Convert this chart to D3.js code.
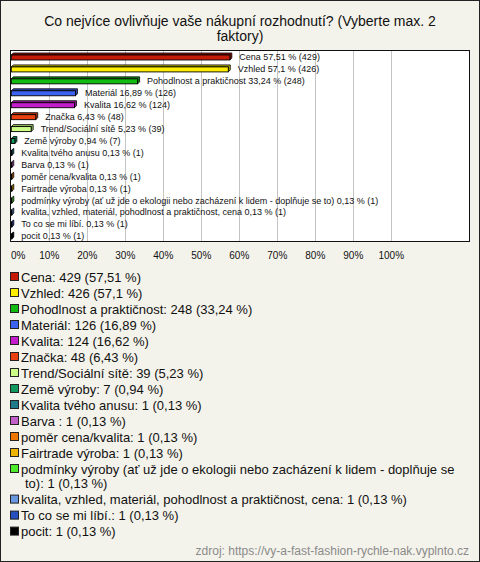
<!DOCTYPE html>
<html><head><meta charset="utf-8">
<script src="https://cdn.jsdelivr.net/npm/d3@7"></script>
<style>
html,body{margin:0;padding:0;background:#f4f3eb;}
svg{display:block;font-family:"Liberation Sans",Arial,sans-serif;}
</style></head>
<body>
<script>
const title = ["Co nejvíce ovlivňuje vaše nákupní rozhodnutí? (Vyberte max. 2", "faktory)"];
const categories = ["Cena","Vzhled","Pohodlnost a praktičnost","Materiál","Kvalita","Značka","Trend/Sociální sítě","Země výroby","Kvalita tvého anusu","Barva ","poměr cena/kvalita","Fairtrade výroba","podmínky výroby (ať už jde o ekologii nebo zacházení k lidem - doplňuje se to)","kvalita, vzhled, materiál, pohodlnost a praktičnost, cena","To co se mi líbí.","pocit"];
const barLabels = ["Cena","Vzhled","Pohodlnost a praktičnost","Materiál","Kvalita","Značka","Trend/Sociální sítě","Země výroby","Kvalita tvého anusu","Barva ","poměr cena/kvalita","Fairtrade výroba","podmínky výroby (ať už jde o ekologii nebo zacházení k lidem - doplňuje se to)","kvalita, vzhled, materiál, pohodlnost a praktičnost, cena","To co se mi líbí.","pocit"];
const counts = [429,426,248,126,124,48,39,7,1,1,1,1,1,1,1,1];
const percents = [57.51,57.1,33.24,16.89,16.62,6.43,5.23,0.94,0.13,0.13,0.13,0.13,0.13,0.13,0.13,0.13];
const percentText = ["57,51","57,1","33,24","16,89","16,62","6,43","5,23","0,94","0,13","0,13","0,13","0,13","0,13","0,13","0,13","0,13"];
const colors = ["#c41a06","#ffee00","#11bb11","#3b62f0","#c41ccc","#e84010","#ccff88","#119960","#1f7a8c","#c060c8","#ee7700","#eeb400","#4cec2c","#6a98e0","#2650c0","#000000"];
const ticks = [0,10,20,30,40,50,60,70,80,90,100];
const source = "zdroj: https://vy-a-fast-fashion-rychle-nak.vyplnto.cz";

const W = 480, H = 562;
const svg = d3.select("body").append("svg").attr("width", W).attr("height", H);
svg.append("rect").attr("x",0.5).attr("y",0.5).attr("width",W-1).attr("height",H-1)
  .attr("fill","#f4f3eb").attr("stroke","#222");

svg.selectAll("text.title").data(title).join("text")
  .attr("x", 240).attr("y", (d,i)=>26+i*15).attr("text-anchor","middle")
  .attr("font-size", 14).attr("fill","#111").text(d=>d);

// plot
const px0 = 10, px1 = 470, py0 = 50, py1 = 241;
svg.append("rect").attr("x",px0+0.5).attr("y",py0+0.5).attr("width",px1-px0-1).attr("height",py1-py0)
  .attr("fill","#fff");
const x = d3.scaleLinear().domain([0,100]).range([11.3,391.3]);
const y = d3.scaleBand().domain(d3.range(categories.length)).range([51,242]);

svg.append("g").selectAll("line").data(ticks.slice(1)).join("line")
  .attr("x1",d=>Math.round(x(d))+0.5).attr("x2",d=>Math.round(x(d))+0.5)
  .attr("y1",py0).attr("y2",py1).attr("stroke","#c4c4c4");

svg.append("rect").attr("x",px0+0.5).attr("y",py0+0.5).attr("width",px1-px0-1).attr("height",py1-py0)
  .attr("fill","none").attr("stroke","#111");

const bh = 5, dp = 2;
const bars = svg.append("g").selectAll("g").data(percents).join("g");
bars.each(function(v,i){
  const g = d3.select(this);
  const x0 = x(0), x1 = x(v);
  const yc = y(i) + y.bandwidth()/2;
  const top = yc - bh/2 + 0.5, bot = top + bh;
  const dark = d3.color(colors[i]).darker(0.8);
  g.append("path")
    .attr("d", `M${x0},${top} L${x0+dp},${top-dp} L${x1+dp},${top-dp} L${x1+dp},${bot-dp} L${x1},${bot} L${x1},${top} Z`)
    .attr("fill", dark).attr("stroke","#000").attr("stroke-width",0.8);
  g.append("rect").attr("x",x0).attr("y",top).attr("width",Math.max(0,x1-x0)).attr("height",bh)
    .attr("fill",colors[i]).attr("stroke","#000").attr("stroke-width",0.9);
  g.append("text").attr("x", x1+9.5).attr("y", yc+3.3).attr("font-size",9).attr("fill","#111")
    .text(`${barLabels[i]} ${percentText[i]} % (${counts[i]})`);
});

svg.append("g").selectAll("text").data(ticks).join("text")
  .attr("x", d=> d===0 ? 11 : x(d)).attr("y", 259)
  .attr("text-anchor", d=> d===0 ? "start" : "middle")
  .attr("font-size",10).attr("fill","#111").text(d=>d+"%");

// legend
const lg = svg.append("g");
let ly = 277;
const maxW = 445;
categories.forEach((c,i)=>{
  const full = `${c}: ${counts[i]} (${percentText[i]} %)`;
  lg.append("rect").attr("x",10.5).attr("y",ly-4.5).attr("width",8).attr("height",8)
    .attr("fill",colors[i]).attr("stroke","#222").attr("stroke-width",1);
  const words = full.split(" ");
  let line = "", lines = [];
  const probe = lg.append("text").attr("font-size",13);
  words.forEach(w=>{
    const test = line ? line + " " + w : w;
    probe.text(test);
    if (probe.node().getComputedTextLength() > maxW && line) { lines.push(line); line = w; }
    else line = test;
  });
  lines.push(line);
  probe.remove();
  lines.forEach((l,k)=>{
    lg.append("text").attr("x", k === 0 ? 21 : 25).attr("y", ly + 4.5 + k*14.6)
      .attr("font-size",13).attr("fill","#111").text(l);
  });
  ly += 16 + (lines.length-1)*14.6;
});

svg.append("text").attr("x",469).attr("y",555).attr("text-anchor","end")
  .attr("font-size",12).attr("fill","#8a8a8a").text(source);
</script>
</body></html>
